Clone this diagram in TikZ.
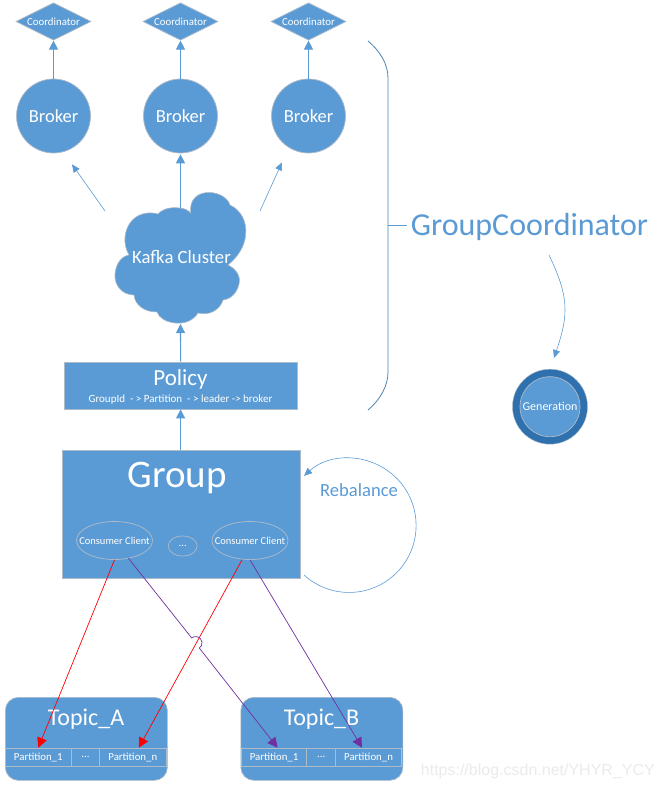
\documentclass[tikz,border=0pt]{standalone}
\usepackage{fontspec}
\setmainfont{Carlito}
\newfontfamily\wmfont{Liberation Sans}
\usetikzlibrary{arrows.meta,shapes.geometric}
\definecolor{vblue}{HTML}{5B9BD5}
\definecolor{vdark}{HTML}{2E71AE}
\definecolor{vedge}{HTML}{AEBBC8}
\definecolor{vpurple}{HTML}{7030A0}
\newcommand{\fs}[1]{\fontsize{#1pt}{#1pt}\selectfont}
\tikzset{
  x=1pt,y=-1pt,
  shape fill/.style={fill=vblue,draw=vedge,line width=0.7pt,text=white,inner sep=0pt,align=center},
  coordbox/.style={shape fill,diamond,aspect=2,minimum width=75pt,minimum height=37.5pt,font=\fs{10.8}},
  brokerbox/.style={shape fill,circle,minimum size=74pt,font=\fs{18.5}},
  rectbox/.style={shape fill,rectangle,anchor=north west},
  clientbox/.style={ellipse,draw=vedge,line width=0.7pt,text=white,inner sep=0pt,font=\fs{10.5}},
  partbox/.style={rectangle,draw=vedge,line width=0.8pt,text=white,inner sep=0pt,minimum height=18.5pt,font=\fs{10.8}},
  topicbox/.style={shape fill,rectangle,rounded corners=13pt,anchor=north west,minimum width=162pt,minimum height=83pt},
  flow/.style={draw=vblue,line width=1.1pt,-{Triangle[length=9pt,width=9pt]}},
  thinflow/.style={draw=vblue,line width=0.6pt,-{Triangle[length=8pt,width=7pt]}},
  redflow/.style={draw=red,line width=0.7pt,-{Triangle[length=10pt,width=10pt]}},
  purpleflow/.style={draw=vpurple,line width=0.7pt,-{Triangle[length=10pt,width=10pt]}},
  label text/.style={text=vblue,inner sep=0pt},
  title text/.style={text=white,inner sep=0pt},
}
\begin{document}
\begin{tikzpicture}
\useasboundingbox (0,0) rectangle (665,789);
\fill[white] (0,0) rectangle (665,789);

\coordinate (cloudtop) at (180.5,209);
\coordinate (cloudbottom) at (180.5,324);
\coordinate (cloudleft) at (105,211);
\coordinate (cloudright) at (260,211);

% coordinators and brokers
\node[coordbox] (c1) at (53.5,21.5) {Coordinator};
\node[coordbox] (c2) at (180.5,21.5) {Coordinator};
\node[coordbox] (c3) at (308.5,21.5) {Coordinator};
\node[brokerbox] (b1) at (53.5,116) {Broker};
\node[brokerbox] (b2) at (180.5,116) {Broker};
\node[brokerbox] (b3) at (308.5,116) {Broker};
\draw[flow] (b1.north) -- (c1.south);
\draw[flow] (b2.north) -- (c2.south);
\draw[flow] (b3.north) -- (c3.south);
\draw[flow] (cloudtop) -- ([yshift=-1pt]b2.south);
\draw[thinflow] (cloudleft) -- ([xshift=18.5pt,yshift=-11pt]b1.south);
\draw[thinflow] (cloudright) -- ([xshift=-26.5pt,yshift=-9pt]b3.south);

% cloud
\fill[vblue,draw=vedge,line width=0.6pt]
  (190.7,213)
  .. controls (189,199) and (198,192.5) .. (209,192.5)
  .. controls (219,192.5) and (228,198) .. (230,205)
  .. controls (241,210) and (247,222) .. (245.7,234)
  .. controls (245,246) and (238,257) .. (228,265)
  .. controls (236,269) and (241,276) .. (239,284)
  .. controls (237,293) and (231,299) .. (223,300)
  .. controls (220,310) and (209,316) .. (198,313)
  .. controls (193,321) and (184,324) .. (175,323)
  .. controls (166,322) and (159,318) .. (157,312)
  .. controls (144,312) and (135,305) .. (134,295)
  .. controls (122,295) and (114,285) .. (115,274)
  .. controls (116,263) and (122,256) .. (129,255)
  .. controls (122,243) and (125,230) .. (130,223)
  .. controls (136,214) and (148,211) .. (158,214)
  .. controls (163,208) and (173,207) .. (179,208)
  .. controls (184,208) and (188,210) .. (190.7,213)
  -- cycle;
\node[title text,font=\fs{18.7}] (cloud) at (181.5,257) {Kafka Cluster};

% policy
\node[rectbox,minimum width=232.5pt,minimum height=47pt] (policy) at (64,361.7) {};
\node[title text,font=\fs{23}] (policytitle) at (180.5,379.5) {Policy};
\node[title text,font=\fs{11}] (policytext) at (180.5,399.5) {GroupId\ \ - > Partition\ \ - > leader -> broker};
\draw[flow] (policy.north) -- (cloudbottom);

% group
\node[rectbox,minimum width=237.5pt,minimum height=128pt] (group) at (62,450) {};
\node[title text,font=\fs{39}] (grouptitle) at (177,478) {Group};
\node[clientbox,minimum width=76pt,minimum height=38pt] (cc1) at (114.5,540.5) {\makebox[0pt]{Consumer Client}};
\node[clientbox,minimum width=76pt,minimum height=38pt] (cc2) at (250,540.5) {\makebox[0pt]{Consumer Client}};
\node[clientbox,minimum width=29pt,minimum height=20pt] (ccm) at (182.7,546) {...};
\draw[flow] (group.north -| policy.south) -- (policy.south);

% rebalance loop
\coordinate (rebstart) at (304,575);
\draw[thinflow] (rebstart) arc[start angle=227.7,end angle=492.2,radius=67pt];
\node[label text,font=\fs{18.6}] (rebalance) at (359,490.5) {Rebalance};

% brace and group coordinator
\coordinate (bracetop) at (368,41);
\coordinate (bracebottom) at (368,410);
\coordinate (bracemid) at (388,225);
\draw[draw=vblue!85!black,line width=0.8pt]
  (bracetop) .. controls (380,51) and (388,64) .. (388,78) -- (388,372)
  .. controls (388,386) and (380,400) .. (bracebottom);
\node[label text,font=\fs{32},anchor=west] (gc) at (410.7,226.5) {GroupCoordinator};
\draw[draw=vblue,line width=0.8pt] (bracemid) -- (406.7,225);

% generation
\node[circle,fill=vdark,draw=vedge,line width=0.4pt,minimum size=75pt,inner sep=0pt] (genout) at (550,406.7) {};
\node[shape fill,circle,minimum size=60pt,font=\fs{12}] (gen) at (550,406.7) {Generation};
\coordinate (gcout) at (549,255);
\draw[thinflow] (gcout) .. controls (561,280) and (565,295) .. (565,310)
  .. controls (565,325) and (560,340) .. (554,358);

% topics
\node[topicbox] (ta) at (5,697) {};
\node[topicbox] (tb) at (240.5,697) {};
\node[title text,font=\fs{24}] (tatitle) at (86,719.5) {Topic\_A};
\node[title text,font=\fs{24}] (tbtitle) at (321.5,719.5) {Topic\_B};
\node[partbox,minimum width=65.7pt,anchor=north west] (a1) at (5,747.7) {Partition\_1};
\node[partbox,minimum width=28.6pt,anchor=north west] (am) at (70.7,747.7) {...};
\node[partbox,minimum width=66.2pt,anchor=north west] (an) at (99.3,747.7) {Partition\_n};
\node[partbox,minimum width=65.3pt,anchor=north west] (b1p) at (241,747.7) {Partition\_1};
\node[partbox,minimum width=29pt,anchor=north west] (bm) at (306.3,747.7) {...};
\node[partbox,minimum width=65.7pt,anchor=north west] (bn) at (335.3,747.7) {Partition\_n};

% consumer to partition
\draw[redflow] (cc1.south) -- (a1.north);
\draw[redflow] ([xshift=-8pt]cc2.south) -- ([xshift=6pt]an.north);
\draw[purpleflow] ([xshift=14pt,yshift=1.5pt]cc1.south)
  -- (191.7,638) .. controls (194,635.5) and (201,636) .. (202,642)
  .. controls (202.5,645) and (201,646.5) .. (199.3,648)
  -- ([xshift=3.5pt]b1p.north);
\draw[purpleflow] (cc2.south) -- ([xshift=-6.5pt]bn.north);

% watermark
\node[text=black!8,font=\wmfont\fs{16},inner sep=0pt,anchor=east] (wm) at (655,771) {https://blog.csdn.net/YHYR\_YCY};
\end{tikzpicture}
\end{document}
